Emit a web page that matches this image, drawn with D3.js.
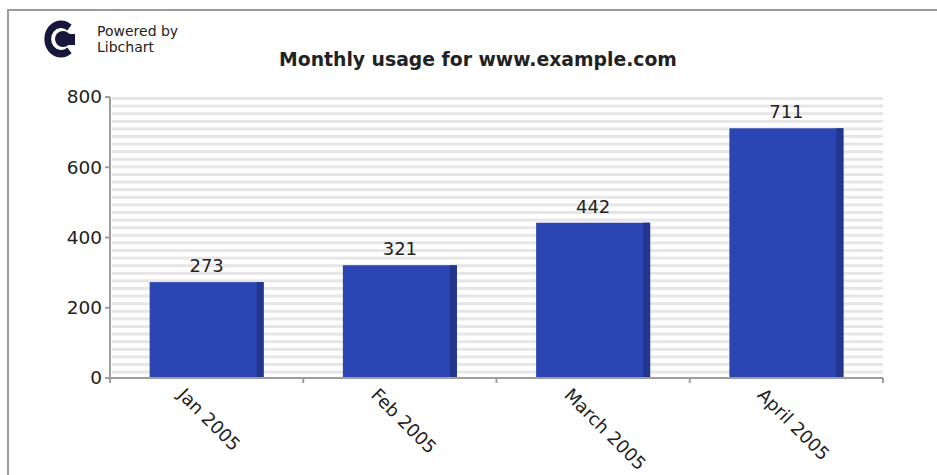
<!DOCTYPE html>
<html>
<head>
<meta charset="utf-8">
<script src="https://cdn.jsdelivr.net/npm/d3@7"></script>
<style>
  body { margin: 0; background: #fff; }
  text { font-family: "DejaVu Sans", sans-serif; fill: #222; }
</style>
</head>
<body>
<svg id="chart"></svg>
<script>
// Data
const months = ["Jan 2005", "Feb 2005", "March 2005", "April 2005"];
const visits = [273, 321, 442, 711];
const yTicks = [0, 200, 400, 600, 800];
const title = "Monthly usage for www.example.com";

const W = 937, H = 475;
const plot = { left: 110, right: 883, top: 97, bottom: 378 };

const svg = d3.select("#chart")
    .attr("width", W)
    .attr("height", H);

// outer frame (cropped on right/bottom)
svg.append("rect")
    .attr("x", 8).attr("y", 10)
    .attr("width", W + 20).attr("height", H + 20)
    .attr("fill", "#fff")
    .attr("stroke", "#9a9a9a")
    .attr("stroke-width", 2);

// Scales
const x = d3.scaleBand()
    .domain(months)
    .range([plot.left, plot.right])
    .paddingInner(0.41)
    .paddingOuter(0.205);

const y = d3.scaleLinear()
    .domain([0, 800])
    .range([plot.bottom, plot.top]);

// striped plot background
const stripes = d3.range(plot.top, plot.bottom - 2, 7.6);
svg.append("g")
    .selectAll("rect")
    .data(stripes)
    .enter()
    .append("rect")
    .attr("x", plot.left + 2)
    .attr("y", d => d)
    .attr("width", plot.right - plot.left - 2)
    .attr("height", 3)
    .attr("fill", "#e6e6e6");

// Title
svg.append("text")
    .attr("x", 478)
    .attr("y", 66)
    .attr("text-anchor", "middle")
    .attr("font-weight", "bold")
    .attr("font-size", 18.8)
    .text(title);

// Logo
const logo = svg.append("g").attr("fill", "#16173a");
logo.append("path")
    .attr("d", d3.arc()
        .innerRadius(11).outerRadius(18.5)
        .startAngle(0.78 * Math.PI).endAngle(2.22 * Math.PI)())
    .attr("transform", "translate(61,39) scale(0.9,1)");
logo.append("circle").attr("cx", 63).attr("cy", 39).attr("r", 8);
logo.append("rect").attr("x", 65).attr("y", 34).attr("width", 10).attr("height", 11);
svg.append("text").attr("x", 97).attr("y", 36).attr("font-size", 14).text("Powered by");
svg.append("text").attr("x", 97).attr("y", 52).attr("font-size", 14).text("Libchart");

// Bars: face + darker side strip
const bars = svg.append("g")
    .selectAll("g")
    .data(visits)
    .enter()
    .append("g");

bars.append("rect")
    .attr("x", (d, i) => x(months[i]))
    .attr("y", d => y(d))
    .attr("width", x.bandwidth())
    .attr("height", d => y(0) - y(d))
    .attr("fill", "#2b45b3");

bars.append("rect")
    .attr("x", (d, i) => x(months[i]) + x.bandwidth() - 7)
    .attr("y", d => y(d))
    .attr("width", 7)
    .attr("height", d => y(0) - y(d))
    .attr("fill", "#21368c");

bars.append("text")
    .attr("x", (d, i) => x(months[i]) + x.bandwidth() / 2)
    .attr("y", d => y(d) - 10)
    .attr("text-anchor", "middle")
    .attr("font-size", 18)
    .text(d => d);

// Axes
const axisColor = "#9e9e9e";
const yAxis = svg.append("g");
yAxis.append("line")
    .attr("x1", plot.left).attr("x2", plot.left)
    .attr("y1", plot.top).attr("y2", plot.bottom)
    .attr("stroke", axisColor).attr("stroke-width", 2);
yAxis.selectAll(".tk")
    .data(yTicks)
    .enter()
    .append("line")
    .attr("x1", plot.left - 5).attr("x2", plot.left)
    .attr("y1", d => y(d)).attr("y2", d => y(d))
    .attr("stroke", axisColor).attr("stroke-width", 2);
yAxis.selectAll("text")
    .data(yTicks)
    .enter()
    .append("text")
    .attr("x", plot.left - 8)
    .attr("y", d => y(d))
    .attr("dy", "0.35em")
    .attr("text-anchor", "end")
    .attr("font-size", 18.5)
    .text(d => d);

const xAxis = svg.append("g");
xAxis.append("line")
    .attr("x1", plot.left).attr("x2", plot.right)
    .attr("y1", plot.bottom).attr("y2", plot.bottom)
    .attr("stroke", axisColor).attr("stroke-width", 2);
const bounds = months.map(m => x(m) - x.step() * x.paddingOuter()).concat([plot.right]);
xAxis.selectAll(".tk")
    .data(bounds)
    .enter()
    .append("line")
    .attr("x1", d => d).attr("x2", d => d)
    .attr("y1", plot.bottom).attr("y2", plot.bottom + 5)
    .attr("stroke", axisColor).attr("stroke-width", 2);
xAxis.selectAll("text")
    .data(months)
    .enter()
    .append("text")
    .attr("transform", d => `translate(${x(d) + x.bandwidth() / 2 - 30},396) rotate(45)`)
    .attr("font-size", 18)
    .text(d => d);
</script>
</body>
</html>
